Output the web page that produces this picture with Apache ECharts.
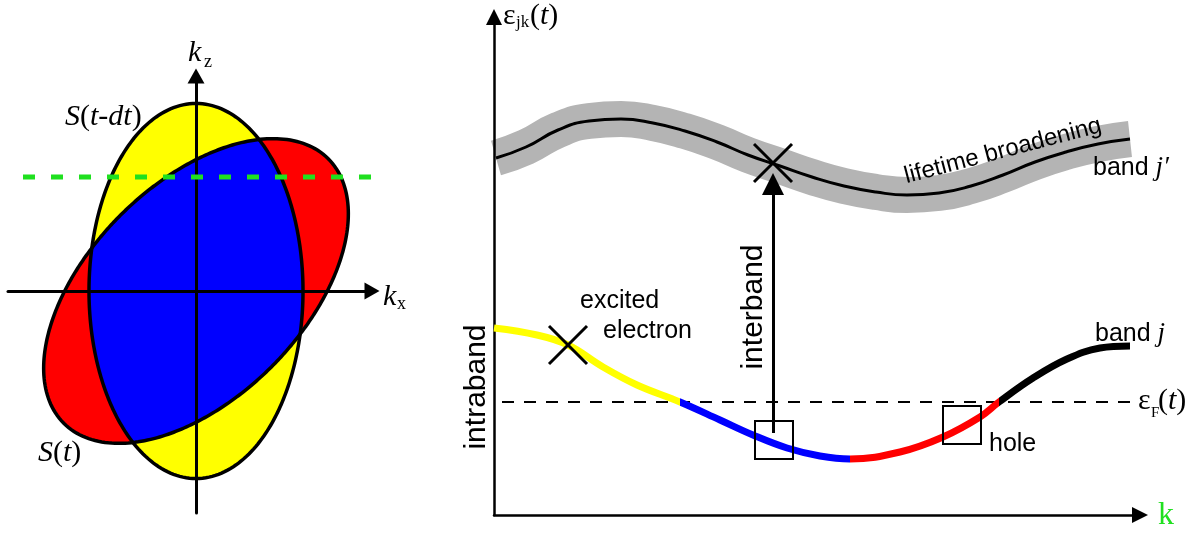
<!DOCTYPE html>
<html>
<head>
<meta charset="utf-8">
<style>
  html, body { margin: 0; padding: 0; background: #fff; }
  #main { width: 1200px; height: 533px; }
</style>
<script src="https://cdn.jsdelivr.net/npm/echarts@6/dist/echarts.min.js"></script>
</head>
<body>
<div id="main"></div>
<script>
// ---- left panel: the two Fermi surfaces (units: 100 px, centred on origin)
var ellipseNames = ['S(t-dt)', 'S(t)'];
var ellipseMajor = [1.875, 1.87];
var ellipseMinor = [1.07, 1.07];
var ellipseAngle = [90, 45];          // major axis angle vs kx, degrees
var ellipseColors = ['#ffff00', '#ff0000'];
var overlapColor = '#0000ff';
var cutK = [-1.73, 1.76];             // green dashed cut
var cutKz = 1.14;

// ---- right panel: band j' (upper) and band j (lower)
var kUpper = [0.02, 0.32, 0.64, 0.95, 1.27, 1.59, 1.91, 2.23, 2.54, 2.86, 3.18, 3.50, 3.82, 4.13, 4.45, 4.77, 5.09, 5.41, 5.72, 6.04, 6.36];
var eUpper = [3.57, 3.68, 3.85, 3.94, 3.96, 3.92, 3.84, 3.73, 3.60, 3.49, 3.38, 3.29, 3.23, 3.20, 3.22, 3.29, 3.40, 3.53, 3.63, 3.71, 3.76];
var kLower = [0, 0.43, 0.74, 1.09, 1.43, 1.86, 2.26, 2.59, 2.93, 3.26, 3.56, 4.06, 4.49, 4.86, 5.05, 5.39, 5.73, 6.06, 6.36];
var eLower = [1.87, 1.80, 1.70, 1.48, 1.30, 1.13, 0.95, 0.80, 0.67, 0.59, 0.56, 0.63, 0.78, 0.98, 1.13, 1.37, 1.56, 1.67, 1.69];
var lowerSplits = [1.86, 3.56, 5.05];
var lowerColors = ['#ffff00', '#0000ff', '#ff0000', '#000000'];
var fermiK = [0.08, 6.39];
var fermiE = 1.13;
var interbandK = 2.79;
var interbandE = [0.82, 3.31];
var crossK = [0.74, 2.79];
var crossE = [1.70, 3.52];
var boxK = [2.80, 4.68];
var boxE = [0.75, 0.90];

var SANS = 'Liberation Sans';
var SERIF = 'Liberation Serif';

function ellipseRadius(i, phi) {
  var th = ellipseAngle[i] * Math.PI / 180;
  var c = Math.cos(phi - th) / ellipseMajor[i];
  var s = Math.sin(phi - th) / ellipseMinor[i];
  return 1 / Math.sqrt(c * c + s * s);
}
function outline(radiusFn, api) {
  var pts = [];
  for (var d = 0; d < 360; d += 1) {
    var phi = d * Math.PI / 180, r = radiusFn(phi);
    pts.push(api.coord([r * Math.cos(phi), r * Math.sin(phi)]));
  }
  return pts;
}
function zip(a, b) {
  return a.map(function (v, i) { return [v, b[i]]; });
}

function axisOpts(grid, min, max, arrow, width) {
  return {
    gridIndex: grid, type: 'value', min: min, max: max, z: 4,
    axisLine: { onZero: true, symbol: ['none', 'triangle'], symbolSize: arrow,
      lineStyle: { color: '#000', width: width } },
    axisTick: { show: false }, axisLabel: { show: false }, splitLine: { show: false }
  };
}

function label(x, y, text, size, family, extra) {
  var el = { type: 'text', x: x, y: y, z: 100, silent: true,
    style: { text: text, fontSize: size, fontFamily: family, fill: '#000',
      align: 'left', verticalAlign: 'middle' } };
  if (extra) {
    for (var k in extra) {
      if (k === 'rotation') el.rotation = extra[k];
      else el.style[k] = extra[k];
    }
  }
  return el;
}
var serifRich = { i: { fontStyle: 'italic', fontFamily: SERIF, fontSize: 30 } };

var chart = echarts.init(document.getElementById('main'));
chart.setOption({
  animation: false,
  backgroundColor: '#fff',
  grid: [
    { left: 8, top: 76, width: 364, height: 437, outerBoundsMode: 'none' },
    { left: 494, top: 17, width: 646, height: 498, outerBoundsMode: 'none' }
  ],
  xAxis: [
    axisOpts(0, -1.88, 1.76, [17, 15], 3),
    axisOpts(1, 0, 6.46, [16, 16], 2.5)
  ],
  yAxis: [
    axisOpts(0, -2.22, 2.15, [17, 15], 3),
    axisOpts(1, 0, 4.98, [16, 16], 2.5)
  ],
  visualMap: [{
    type: 'piecewise', show: false, dimension: 0, seriesIndex: 6,
    pieces: [
      { lt: lowerSplits[0], color: lowerColors[0] },
      { gte: lowerSplits[0], lt: lowerSplits[1], color: lowerColors[1] },
      { gte: lowerSplits[1], lt: lowerSplits[2], color: lowerColors[2] },
      { gte: lowerSplits[2], color: lowerColors[3] }
    ]
  }],
  series: [
    { // 0 ellipse fills
      type: 'custom', xAxisIndex: 0, yAxisIndex: 0, z: 1, silent: true,
      data: ellipseNames.map(function () { return [0, 0]; }),
      renderItem: function (params, api) {
        var i = params.dataIndex;
        return { type: 'polygon',
          shape: { points: outline(function (p) { return ellipseRadius(i, p); }, api) },
          style: { fill: ellipseColors[i], stroke: 'none' } };
      }
    },
    { // 1 overlap
      type: 'custom', xAxisIndex: 0, yAxisIndex: 0, z: 2, silent: true,
      data: [[0, 0]],
      renderItem: function (params, api) {
        return { type: 'polygon',
          shape: { points: outline(function (p) {
            return Math.min(ellipseRadius(0, p), ellipseRadius(1, p));
          }, api) },
          style: { fill: overlapColor, stroke: 'none' } };
      }
    },
    { // 2 outlines
      type: 'custom', xAxisIndex: 0, yAxisIndex: 0, z: 3, silent: true,
      data: ellipseNames.map(function () { return [0, 0]; }),
      renderItem: function (params, api) {
        var i = params.dataIndex;
        return { type: 'polygon',
          shape: { points: outline(function (p) { return ellipseRadius(i, p); }, api) },
          style: { fill: 'none', stroke: '#000', lineWidth: 3.5 } };
      }
    },
    { // 3 green cut
      type: 'line', xAxisIndex: 0, yAxisIndex: 0, z: 6, silent: true,
      data: cutK.map(function (k) { return [k, cutKz]; }),
      showSymbol: false,
      lineStyle: { color: '#1fe01f', width: 5, type: [12, 16], cap: 'butt' }
    },
    { // 4 lifetime broadening
      type: 'line', xAxisIndex: 1, yAxisIndex: 1, z: 2, silent: true,
      data: zip(kUpper, eUpper), showSymbol: false, smooth: 0.5,
      lineStyle: { color: '#b4b4b4', width: 36, cap: 'butt' }
    },
    { // 5 band j'
      type: 'line', xAxisIndex: 1, yAxisIndex: 1, z: 3, silent: true,
      data: zip(kUpper, eUpper), showSymbol: false, smooth: 0.5,
      lineStyle: { color: '#000', width: 3 }
    },
    { // 6 band j
      type: 'line', xAxisIndex: 1, yAxisIndex: 1, z: 4, silent: true,
      data: zip(kLower, eLower), showSymbol: false, smooth: 0.4,
      lineStyle: { width: 7, cap: 'butt' }
    },
    { // 7 Fermi level
      type: 'line', xAxisIndex: 1, yAxisIndex: 1, z: 3, silent: true,
      data: fermiK.map(function (k) { return [k, fermiE]; }), showSymbol: false,
      lineStyle: { color: '#000', width: 2, type: [12, 10] }
    },
    { // 8 interband arrow
      type: 'lines', coordinateSystem: 'cartesian2d', xAxisIndex: 1, yAxisIndex: 1, z: 5,
      silent: true, symbol: ['none', 'triangle'], symbolSize: 22,
      lineStyle: { color: '#000', width: 3, opacity: 1 },
      data: [{ coords: [[interbandK, interbandE[0]], [interbandK, interbandE[1]]] }]
    },
    { // 9 crosses
      type: 'custom', xAxisIndex: 1, yAxisIndex: 1, z: 6, silent: true,
      data: zip(crossK, crossE),
      renderItem: function (params, api) {
        var p = api.coord([api.value(0), api.value(1)]), h = 19;
        var st = { stroke: '#000', lineWidth: 3 };
        return { type: 'group', children: [
          { type: 'line', shape: { x1: p[0] - h, y1: p[1] + h, x2: p[0] + h, y2: p[1] - h }, style: st },
          { type: 'line', shape: { x1: p[0] - h, y1: p[1] - h, x2: p[0] + h, y2: p[1] + h }, style: st }
        ] };
      }
    },
    { // 10 boxes
      type: 'custom', xAxisIndex: 1, yAxisIndex: 1, z: 6, silent: true,
      data: zip(boxK, boxE),
      renderItem: function (params, api) {
        var p = api.coord([api.value(0), api.value(1)]), h = 19;
        return { type: 'rect', shape: { x: p[0] - h, y: p[1] - h, width: 2 * h, height: 2 * h },
          style: { fill: 'none', stroke: '#000', lineWidth: 2 } };
      }
    }
  ],
  graphic: { elements: [
    label(65, 117, '{i|S}({i|t}-{i|dt})', 30, SERIF, { rich: serifRich }),
    label(38, 453, '{i|S}({i|t})', 30, SERIF, { rich: serifRich }),
    label(188, 53, 'k', 30, SERIF, { fontStyle: 'italic' }),
    label(204, 62, 'z', 18, SERIF),
    label(383, 297, 'k', 30, SERIF, { fontStyle: 'italic' }),
    label(397, 304, 'x', 18, SERIF),
    label(503, 16, 'ε', 30, SERIF),
    label(516, 23, 'jk', 17, SERIF),
    label(530, 16, '({i|t})', 30, SERIF, { rich: serifRich }),
    label(1138, 401, 'ε', 30, SERIF),
    label(1151, 413, 'F', 15, SERIF),
    label(1158, 401, '({i|t})', 30, SERIF, { rich: serifRich }),
    label(1158, 516, 'k', 32, SERIF, { fill: '#1fe01f' }),
    label(580, 301, 'excited', 25, SANS),
    label(603, 331, 'electron', 25, SANS),
    label(989, 444, 'hole', 25, SANS),
    label(1095, 334, 'band {j|j}', 25, SANS,
      { rich: { j: { fontStyle: 'italic', fontFamily: SERIF, fontSize: 27 } } }),
    label(1093, 168, 'band {j|j′}', 25, SANS,
      { rich: { j: { fontStyle: 'italic', fontFamily: SERIF, fontSize: 27 } } }),
    label(1003, 151, 'lifetime broadening', 24, SANS, { align: 'center', rotation: 0.257 }),
    label(754, 307, 'interband', 30, SANS, { align: 'center', rotation: Math.PI / 2 }),
    label(477, 387, 'intraband', 30, SANS, { align: 'center', rotation: Math.PI / 2 })
  ] }
});
</script>
</body>
</html>
